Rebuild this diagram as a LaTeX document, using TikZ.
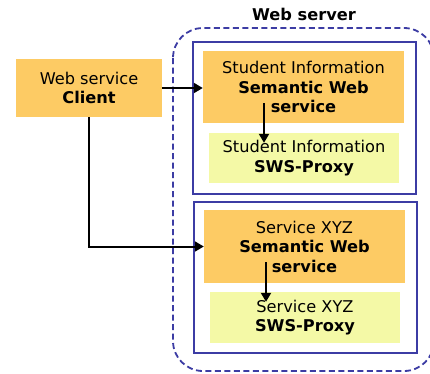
\documentclass[tikz,border=0pt]{standalone}
\usepackage{fontspec}
\setmainfont{DejaVu Sans}
\usetikzlibrary{arrows.meta}
\definecolor{orangebox}{HTML}{FDCB64}
\definecolor{yellowbox}{HTML}{F4F9A6}
\definecolor{frameblue}{HTML}{3C3CA4}
\tikzset{
  txt/.style={font=\fontsize{16.2}{19.5}\selectfont, align=center, inner sep=0pt},
  orangenode/.style={txt, fill=orangebox, minimum width=201pt, minimum height=72pt},
  yellownode/.style={txt, fill=yellowbox, minimum width=190pt, minimum height=50pt},
  innerframe/.style={draw=frameblue, line width=1.3pt},
  outerframe/.style={draw=frameblue, line width=1.8pt, dash pattern=on 6pt off 3.5pt, rounded corners=30pt},
  arr/.style={line width=2pt, -{Triangle[length=9pt,width=10pt]}}
}
\begin{document}
\begin{tikzpicture}[x=1pt,y=-1pt]
\useasboundingbox (0,0) rectangle (430,373);
\clip (0,0) rectangle (430,373);
\fill[white] (0,0) rectangle (430,373);
% outer web server frame
\draw[outerframe] (173,28) rectangle (434,371);
\node[txt, font=\fontsize{16.2}{19.5}\selectfont\bfseries] (ws) at (304,14) {Web server};
% inner frames
\draw[innerframe] (193,42) rectangle (416,194);
\draw[innerframe] (194,202) rectangle (417,353);
% nodes
\node[txt, fill=orangebox, minimum width=146pt, minimum height=58pt] (client) at (89,88) {Web service\\\textbf{Client}};
\node[orangenode] (o1) at (303.5,87) {Student Information\\\textbf{Semantic Web}\\\textbf{service}};
\node[yellownode] (y1) at (304,158) {Student Information\\\textbf{SWS-Proxy}};
\node[orangenode, minimum height=73pt] (o2) at (304.5,246.5) {Service XYZ\\\textbf{Semantic Web}\\\textbf{service}};
\node[yellownode, minimum height=51pt] (y2) at (305,317.5) {Service XYZ\\\textbf{SWS-Proxy}};
% connectors
\draw[arr] (client.east) -- (client.east -| o1.west);
\draw[arr] (client.south) |- (o2.west);
\draw[arr] ([xshift=-39.5pt,yshift=20pt]o1.south) -- ([xshift=-40pt,yshift=-10pt]y1.north);
\draw[arr] ([xshift=-38.5pt,yshift=21pt]o2.south) -- ([xshift=-39pt,yshift=-10pt]y2.north);
\end{tikzpicture}
\end{document}
